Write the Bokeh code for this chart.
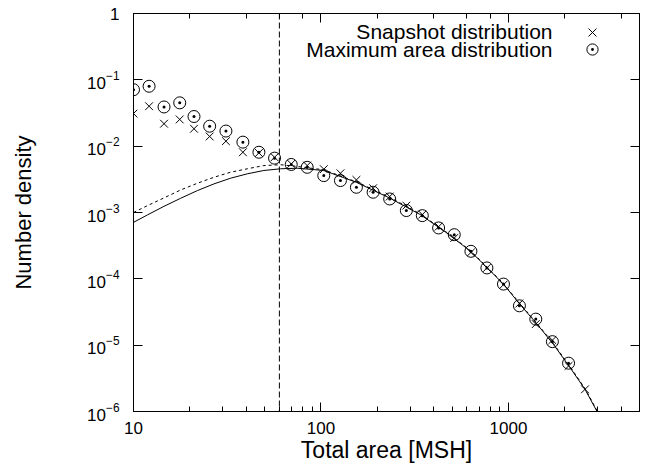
from bokeh.plotting import figure
from bokeh.models import (LogAxis, LogTicker, BasicTickFormatter, Span,
                          Label, Legend, LegendItem, CustomJSTickFormatter)
from bokeh.embed import file_html
from bokeh.resources import INLINE

# ---- data ----
area_bins = [10.0, 12.11, 14.55, 17.64, 21.02, 25.48, 31.12, 38.33, 46.66, 56.54,
             69.39, 84.43, 103.5, 127.0, 154.5, 189.7, 232.5, 285.3, 347.1, 424.0,
             514.0, 630.6, 767.4, 940.6, 1144, 1399, 1715, 2092, 2561]
snapshot_density = [0.031, 0.040, 0.0218, 0.0253, 0.0183, 0.014, 0.0119, 0.0081, 0.0079,
                    0.0068, 0.0054, 0.0051, 0.0045, 0.0039, 0.0031, 0.00232, 0.00174,
                    0.00127, 0.00093, 0.000612, 0.000413, 0.00025, 0.000146, 8.15e-5,
                    4.25e-5, 2.08e-5, 1.19e-5, 4.86e-6, 2.16e-6]
max_area_density = [0.071, 0.080, 0.039, 0.045, 0.028, 0.020, 0.0169, 0.0115, 0.0081,
                    0.0066, 0.0053, 0.0048, 0.0036, 0.00303, 0.0024, 0.00202, 0.0016,
                    0.00107, 0.000897, 0.000585, 0.000463, 0.00026, 0.000146, 8.34e-5,
                    3.92e-5, 2.47e-5, 1.13e-5, 5.35e-6]

fit_area = [10, 11.87, 14.55, 17.86, 21.92, 26.87, 32.97, 40.46, 49.6, 60.85, 74.7,
            103.5, 154.5, 232.5, 338.7, 460.2, 625.2, 770, 940.6, 1154, 1416, 1737,
            2130, 2561, 2968]
fit_snapshot = [7.1e-4, 9.2e-4, 1.24e-3, 1.64e-3, 2.14e-3, 2.7e-3, 3.29e-3, 3.83e-3,
                4.3e-3, 4.56e-3, 4.65e-3, 4.3e-3, 2.85e-3, 1.65e-3, 9.3e-4, 5.1e-4,
                2.63e-4, 1.47e-4, 8.3e-5, 4.1e-5, 2.1e-5, 1.03e-5, 4.6e-6, 2.16e-6, 1.0e-6]
fit_max_area = [1.0e-3, 1.27e-3, 1.66e-3, 2.19e-3, 2.76e-3, 3.4e-3, 4.05e-3, 4.56e-3,
                5.1e-3, 5.25e-3, 4.95e-3, 4.4e-3, 2.9e-3, 1.7e-3, 9.5e-4, 5.2e-4,
                2.68e-4, 1.5e-4, 8.5e-5, 4.2e-5, 2.15e-5, 1.06e-5, 4.75e-6, 2.22e-6, 1.03e-6]

area_threshold = 60
x_limits = (10, 5000)
y_limits = (1e-6, 1)
x_label = "Total area [MSH]"
y_label = "Number density"
series_names = ["Snapshot distribution", "Maximum area distribution"]

FONT = "Liberation Sans"

p = figure(width=648, height=472, x_axis_type="log", y_axis_type="log",
           x_range=x_limits, y_range=y_limits, output_backend="svg",
           toolbar_location=None, min_border_left=133, min_border_right=9,
           min_border_top=13, min_border_bottom=61)
p.xgrid.visible = False
p.ygrid.visible = False
p.outline_line_color = "black"
p.outline_line_width = 1
p.background_fill_color = "white"
p.border_fill_color = "white"

# fits
p.line(fit_area, fit_snapshot, line_color="black", line_width=1)
p.line(fit_area, fit_max_area, line_color="black", line_width=1, line_dash="3 3")

# vertical threshold
p.add_layout(Span(location=area_threshold, dimension="height", line_color="black",
                  line_width=1, line_dash="6 3"))

# data
r_cross = p.scatter(area_bins, snapshot_density, marker="x", size=11,
                    line_color="black", line_width=1)
r_circ = p.scatter(area_bins[:len(max_area_density)], max_area_density,
                   marker="circle_dot", size=12, line_color="black",
                   fill_color=None, line_width=1)

# axes styling
xa = p.xaxis[0]
xa.formatter = BasicTickFormatter()
xa.axis_label = x_label
ya = p.yaxis[0]
ya.axis_label = y_label
ya.major_label_overrides = {1: "1"}

for ax in (xa, ya):
    ax.axis_line_color = "black"
    ax.major_tick_line_color = "black"
    ax.minor_tick_line_color = "black"
    ax.major_tick_in = 9
    ax.major_tick_out = 0
    ax.minor_tick_in = 5
    ax.minor_tick_out = 0
    ax.major_label_text_font = FONT
    ax.major_label_text_font_size = "17px"
    ax.major_label_text_color = "black"
    ax.axis_label_text_font = FONT
    ax.axis_label_text_font_style = "normal"
    ax.axis_label_text_color = "black"

xa.axis_label_text_font_size = "23px"
ya.axis_label_text_font_size = "22px"
ya.minor_tick_line_color = None
xa.major_label_standoff = 10
xa.axis_label_standoff = 0
ya.major_label_standoff = 14
ya.axis_label_standoff = 48

# mirrored axes (ticks only)
blank = CustomJSTickFormatter(code="return ''")
top = LogAxis(ticker=LogTicker(), formatter=blank, major_tick_in=9, major_tick_out=0,
              minor_tick_in=5, minor_tick_out=0, major_label_text_font_size="1px",
              major_label_standoff=0, axis_line_color="black")
right = LogAxis(ticker=LogTicker(), formatter=blank, major_tick_in=9, major_tick_out=0,
                minor_tick_line_color=None, major_label_text_font_size="1px",
                major_label_standoff=0, axis_line_color="black")
p.add_layout(top, "above")
p.add_layout(right, "right")

# legend: symbols on the right, texts right-aligned to their left
leg1 = Legend(items=[LegendItem(label=" ", renderers=[r_cross])],
              location=(445, 365), glyph_width=28, glyph_height=28,
              label_width=0, label_standoff=0, padding=0, margin=0, spacing=0,
              border_line_color=None, background_fill_alpha=0,
              label_text_font_size="10px")
leg2 = Legend(items=[LegendItem(label=" ", renderers=[r_circ])],
              location=(445, 348), glyph_width=28, glyph_height=28,
              label_width=0, label_standoff=0, padding=0, margin=0, spacing=0,
              border_line_color=None, background_fill_alpha=0,
              label_text_font_size="10px")
p.add_layout(leg1)
p.add_layout(leg2)

for txt, yy in zip(series_names, (380, 362.5)):
    p.add_layout(Label(x=419, y=yy, x_units="screen", y_units="screen", text=txt,
                       text_align="right", text_baseline="middle",
                       text_font=FONT, text_font_size="21px", text_color="black"))

open("out.html", "w").write(file_html(p, INLINE))
